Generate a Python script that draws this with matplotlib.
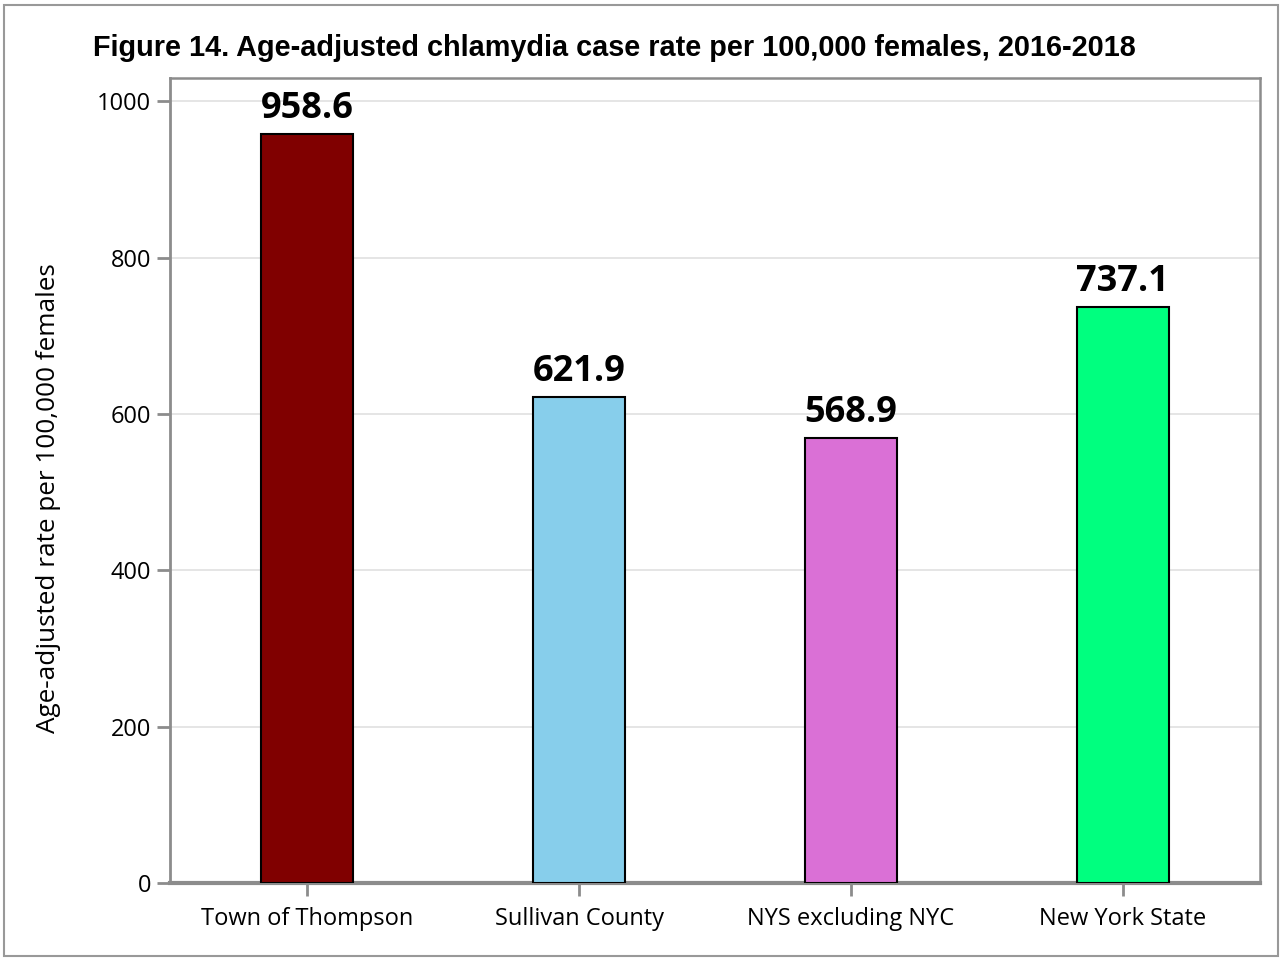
import matplotlib
matplotlib.use("Agg")
import matplotlib.pyplot as plt
from matplotlib.patches import Rectangle

categories = ["Town of Thompson", "Sullivan County", "NYS excluding NYC", "New York State"]
values = [958.6, 621.9, 568.9, 737.1]
colors = ["#800000", "#87CEEB", "#DA70D6", "#00FF7F"]
yticks = [0, 200, 400, 600, 800, 1000]

W, H = 1283, 960
fig = plt.figure(figsize=(W/100, H/100), dpi=100)
fig.patches.append(Rectangle((4/W, 4/H), (W-9)/W, (H-9)/H, transform=fig.transFigure,
                             fill=False, edgecolor="#999999", linewidth=1.5))

L, R, T, B = 170, 1260, 78, 883
ax = fig.add_axes([L/W, 1-B/H, (R-L)/W, (B-T)/H])
x = list(range(len(categories)))
ax.bar(x, values, width=0.34, color=colors, edgecolor="black", linewidth=1.5, zorder=3)
for xi, v in zip(x, values):
    ax.annotate(f"{v:.1f}", (xi, v), xytext=(0, 5), textcoords="offset points",
                ha="center", va="bottom", fontsize=26, fontweight="bold",
                family="Open Sans", zorder=4)
ax.set_xlim(-0.505, 3.505)
ax.set_ylim(0, 1030)
ax.set_yticks(yticks)
ax.set_xticks(x)
ax.set_xticklabels(categories)
ax.grid(axis="y", color="#e0e0e0", linewidth=1.2, zorder=0)
for s in ax.spines.values():
    s.set_color("#8c8c8c")
    s.set_linewidth(1.8)
ax.spines["bottom"].set_linewidth(3)
ax.spines["left"].set_linewidth(2)
ax.tick_params(axis="both", colors="#8c8c8c", labelcolor="black", length=9.5, width=2,
               labelsize=17)
ax.tick_params(axis="y", pad=4)
ax.tick_params(axis="x", pad=8)
for lab in ax.get_xticklabels() + ax.get_yticklabels():
    lab.set_family("Open Sans")
ax.set_ylabel("Age-adjusted rate per 100,000 females", fontsize=18.8, family="Open Sans")
ax.yaxis.set_label_coords((61 - L) / (R - L), 0.478)
fig.text(93/W, 1-48/H, "Figure 14. Age-adjusted chlamydia case rate per 100,000 females, 2016-2018",
         fontsize=20.8, fontweight="bold", family="Liberation Sans", ha="left", va="center")
fig.savefig("out.png", dpi=100)
